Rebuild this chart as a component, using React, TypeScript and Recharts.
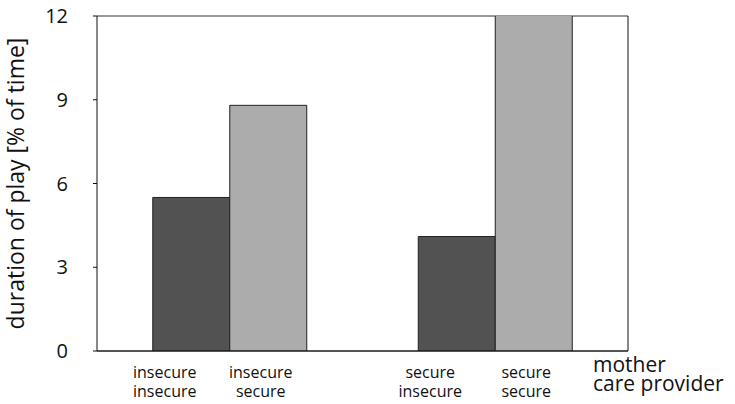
import React from 'react';
import { BarChart, Bar, XAxis, YAxis, CartesianGrid } from 'recharts';

// mother attachment (one group each)
const mothers = ['insecure', 'secure'];
// care provider attachment (one bar each)
const careProviders = ['insecure', 'secure'];
const careInsecure = [5.5, 4.1];
const careSecure = [8.8, 12.1];
const yTicks = [0, 3, 6, 9, 12];

const data = mothers.map((m, i) => ({
    mother: m,
    careInsecure: careInsecure[i],
    careSecure: careSecure[i],
}));

const FONT = '"Open Sans", Lato, sans-serif';

const PairTick = (props: any) => {
    const { x, y, payload } = props;
    const offsets = [-65, 31];
    return (
        <g>
            {careProviders.map((cp, i) => (
                <text
                    key={cp}
                    x={x + offsets[i]}
                    y={y}
                    textAnchor="middle"
                    fontFamily={FONT}
                    fontSize={16}
                    fill="#111"
                >
                    <tspan x={x + offsets[i]} dy={19}>{payload.value}</tspan>
                    <tspan x={x + offsets[i]} dy={19}>{cp}</tspan>
                </text>
            ))}
        </g>
    );
};

const AxisNames = (props: any) => {
    const { viewBox } = props;
    const x = viewBox.x + viewBox.width - 35;
    return (
        <text x={x} y={viewBox.y} fontFamily={FONT} fontSize={21} fill="#111">
            <tspan x={x} dy={21}>mother</tspan>
            <tspan x={x} dy={19}>care provider</tspan>
        </text>
    );
};

export default function App() {
    return (
        <div style={{ position: 'absolute', left: 0, top: 0, background: '#fff' }}>
            <BarChart
                width={735}
                height={404}
                data={data}
                margin={{ top: 16, right: 106, bottom: 0, left: 0 }}
                barCategoryGap="21%"
                barGap={0}
            >
                <CartesianGrid vertical={false} stroke="#333" strokeWidth={1} />
                <XAxis
                    dataKey="mother"
                    height={53}
                    axisLine={{ stroke: '#111' }}
                    tickLine={false}
                    tick={<PairTick />}
                    interval={0}
                    label={{ content: <AxisNames /> }}
                />
                <YAxis
                    yAxisId="left"
                    width={97}
                    domain={[0, 12]}
                    ticks={yTicks}
                    allowDataOverflow
                    axisLine={{ stroke: '#111' }}
                    tickLine={{ stroke: '#111' }}
                    tickSize={4}
                    tickMargin={25}
                    tick={{ fontFamily: FONT, fontSize: 20, fill: '#111' }}
                    label={{
                        value: 'duration of play [% of time]',
                        angle: -90,
                        position: 'insideLeft',
                        offset: 16,
                        style: { fontFamily: FONT, fontSize: 23, fill: '#111', textAnchor: 'middle' },
                    }}
                />
                <YAxis
                    yAxisId="right"
                    orientation="right"
                    width={1}
                    domain={[0, 12]}
                    tick={false}
                    tickLine={false}
                    axisLine={{ stroke: '#111' }}
                />
                <Bar
                    yAxisId="left"
                    dataKey="careInsecure"
                    fill="#525252"
                    stroke="#222"
                    strokeWidth={1}
                    isAnimationActive={false}
                />
                <Bar
                    yAxisId="left"
                    dataKey="careSecure"
                    fill="#acacac"
                    stroke="#222"
                    strokeWidth={1}
                    isAnimationActive={false}
                />
            </BarChart>
        </div>
    );
}
